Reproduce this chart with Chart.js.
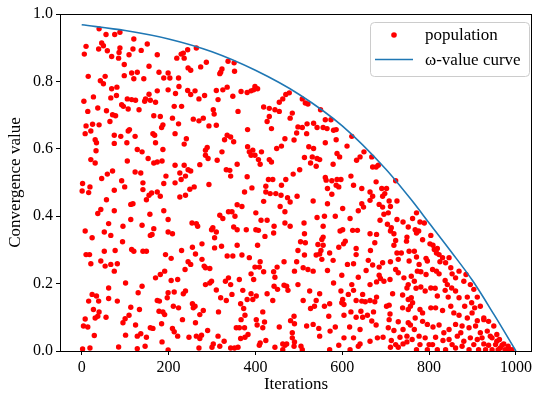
<!DOCTYPE html>
<html>
<head>
<meta charset="utf-8">
<script src="https://cdn.jsdelivr.net/npm/chart.js@4.4.1/dist/chart.umd.min.js"></script>
<style>html,body{margin:0;padding:0;background:#fff;}</style>
</head>
<body>
<canvas id="chart" width="536" height="398"></canvas>
<script>
const xTicks = [0, 200, 400, 600, 800, 1000];
const yTicks = [0, 0.2, 0.4, 0.6, 0.8, 1.0];

// omega-value curve
const curveX = [0, 100, 200, 300, 400, 500, 600, 700, 760, 800, 850, 900, 950, 1000];
const curveY = [0.968, 0.951, 0.926, 0.888, 0.833, 0.762, 0.668, 0.540, 0.447, 0.380, 0.296, 0.209, 0.107, 0.0];

// population points [iteration, value]
const populationPoints = [
[40,0.956],[56,0.939],[76,0.939],[88,0.946],[120,0.926],[151,0.911],[10,0.904],[46,0.914],[50,0.906],[39,0.896],[59,0.891],[88,0.899],[118,0.896],[137,0.892],[6,0.881],[69,0.874],[85,0.869],[86,0.886],[98,0.850],[109,0.879],[174,0.879],[155,0.845],[178,0.827],[189,0.810],[199,0.825],[115,0.825],[128,0.827],[120,0.808],[143,0.808],[98,0.817],[54,0.815],[43,0.802],[50,0.793],[15,0.815],[69,0.778],[81,0.783],[80,0.758],[199,0.775],[174,0.772],[155,0.762],[170,0.738],[147,0.748],[145,0.741],[158,0.744],[105,0.748],[115,0.746],[124,0.744],[92,0.731],[96,0.726],[107,0.718],[132,0.716],[67,0.751],[27,0.754],[5,0.741],[14,0.711],[37,0.721],[57,0.713],[71,0.701],[78,0.698],[65,0.681],[166,0.698],[181,0.696],[25,0.673],[40,0.671],[10,0.668],[187,0.671],
[264,0.899],[244,0.894],[234,0.884],[229,0.881],[219,0.869],[236,0.869],[287,0.857],[274,0.843],[245,0.840],[251,0.833],[337,0.860],[351,0.855],[352,0.830],[323,0.837],[320,0.827],[318,0.823],[203,0.810],[223,0.810],[224,0.785],[244,0.773],[251,0.761],[261,0.772],[216,0.764],[283,0.758],[270,0.748],[310,0.773],[325,0.775],[335,0.783],[348,0.756],[314,0.746],[367,0.770],[381,0.767],[390,0.772],[399,0.785],[405,0.778],[396,0.775],[470,0.761],[463,0.748],[455,0.738],[478,0.766],[419,0.724],[432,0.720],[445,0.716],[360,0.711],[303,0.716],[305,0.703],[213,0.726],[230,0.726],[209,0.691],[257,0.688],[270,0.683],[280,0.691],[432,0.696],[427,0.681],[455,0.711],[480,0.691],[223,0.674],[293,0.668],[310,0.670],
[508,0.748],[515,0.736],[521,0.733],[550,0.716],[485,0.706],[561,0.686],[574,0.686],[519,0.674],[534,0.676],
[8,0.645],[21,0.653],[31,0.627],[34,0.618],[33,0.594],[75,0.640],[90,0.637],[75,0.616],[104,0.618],[107,0.653],[110,0.657],[123,0.637],[164,0.645],[168,0.640],[170,0.618],[184,0.663],[21,0.568],[31,0.558],[128,0.598],[139,0.591],[153,0.571],[166,0.558],[174,0.561],[185,0.564],[187,0.598],[105,0.564],[123,0.531],[136,0.528],[59,0.525],[46,0.512],[71,0.534],[2,0.497],[19,0.487],[1,0.475],[16,0.470],[92,0.505],[99,0.487],[141,0.499],[141,0.479],[75,0.477],[161,0.469],[155,0.462],[149,0.449],[174,0.472],[181,0.459],[189,0.497],[194,0.519],[57,0.449],[113,0.435],[118,0.437],[44,0.420],[37,0.408],[75,0.416],[157,0.406],[189,0.416],[199,0.390],[62,0.378],[95,0.370],[113,0.390],[139,0.373],[166,0.363],[158,0.343],[162,0.346],[8,0.356],[24,0.336],[52,0.353],[67,0.343],[199,0.353],
[382,0.657],[437,0.660],[215,0.645],[241,0.630],[236,0.614],[335,0.640],[343,0.635],[329,0.627],[350,0.621],[468,0.630],[289,0.604],[285,0.596],[323,0.591],[285,0.581],[291,0.571],[312,0.566],[382,0.606],[386,0.591],[394,0.596],[390,0.581],[399,0.581],[414,0.591],[407,0.568],[411,0.554],[432,0.568],[437,0.561],[449,0.601],[460,0.608],[215,0.551],[236,0.551],[272,0.553],[333,0.538],[341,0.536],[343,0.519],[358,0.554],[381,0.517],[226,0.528],[245,0.538],[251,0.534],[239,0.519],[229,0.509],[215,0.499],[293,0.494],[259,0.487],[249,0.480],[239,0.462],[226,0.457],[375,0.472],[392,0.484],[424,0.489],[430,0.509],[440,0.509],[470,0.509],[460,0.492],[424,0.472],[434,0.467],[447,0.467],[459,0.462],[474,0.455],[480,0.442],[419,0.444],[457,0.429],[468,0.413],[358,0.434],[369,0.429],[401,0.410],[413,0.388],[427,0.388],[338,0.413],[346,0.413],[318,0.403],[325,0.393],[353,0.400],[254,0.380],[264,0.378],[267,0.370],[209,0.348],[302,0.366],[299,0.360],[310,0.353],[306,0.336],[350,0.368],[358,0.360],[379,0.360],[401,0.360],[407,0.358],[443,0.370],[442,0.350],[422,0.340],[468,0.380],[480,0.370],
[498,0.665],[508,0.663],[542,0.663],[556,0.663],[565,0.660],[580,0.655],[586,0.657],[495,0.647],[489,0.626],[518,0.645],[561,0.618],[586,0.627],[622,0.637],[611,0.608],[523,0.606],[534,0.601],[513,0.574],[531,0.576],[542,0.571],[548,0.568],[527,0.558],[540,0.548],[588,0.586],[594,0.576],[579,0.554],[633,0.566],[641,0.576],[650,0.591],[668,0.576],[670,0.546],[678,0.546],[683,0.551],[723,0.505],[487,0.525],[502,0.538],[561,0.515],[563,0.507],[576,0.505],[588,0.509],[597,0.509],[586,0.492],[592,0.487],[620,0.519],[626,0.492],[576,0.465],[566,0.482],[645,0.482],[664,0.472],[670,0.459],[678,0.502],[691,0.482],[702,0.482],[698,0.467],[693,0.459],[708,0.445],[726,0.445],[664,0.447],[496,0.459],[533,0.445],[566,0.437],[645,0.437],[649,0.427],[637,0.416],[685,0.435],[693,0.427],[711,0.429],[706,0.410],[696,0.406],[601,0.423],[584,0.400],[618,0.393],[559,0.400],[542,0.396],[687,0.388],[704,0.376],[713,0.366],[726,0.390],[740,0.383],[752,0.368],[512,0.380],[556,0.370],[601,0.360],[595,0.356],[624,0.358],[635,0.358],[664,0.348],[679,0.346],[711,0.356],[719,0.348],[513,0.348],[556,0.338],[749,0.338],
[771,0.410],[762,0.393],[779,0.383],[789,0.380],[768,0.360],[776,0.356],[771,0.350],[804,0.343],[785,0.330],
[94,0.324],[10,0.286],[18,0.286],[21,0.259],[44,0.267],[54,0.252],[52,0.296],[77,0.298],[67,0.257],[82,0.259],[75,0.237],[115,0.301],[120,0.296],[141,0.296],[149,0.296],[193,0.286],[170,0.217],[181,0.227],[191,0.237],[101,0.202],[62,0.187],[139,0.192],[130,0.173],[24,0.168],[34,0.163],[16,0.148],[39,0.148],[62,0.156],[82,0.148],[27,0.123],[40,0.116],[31,0.098],[37,0.103],[56,0.100],[8,0.095],[4,0.074],[14,0.071],[29,0.046],[100,0.096],[95,0.084],[109,0.106],[113,0.130],[133,0.123],[174,0.150],[179,0.148],[178,0.118],[187,0.116],[191,0.108],[197,0.158],[199,0.173],[124,0.077],[101,0.047],[128,0.044],[136,0.051],[149,0.041],[158,0.069],[164,0.067],[184,0.081],[185,0.027],[2,0.006],[19,0.009],[85,0.012],[128,0.007],[146,0.014],[199,0.003],
[255,0.308],[277,0.318],[306,0.306],[322,0.311],[358,0.314],[405,0.314],[230,0.298],[262,0.288],[206,0.275],[245,0.265],[251,0.257],[277,0.272],[282,0.252],[285,0.247],[295,0.245],[238,0.242],[335,0.282],[348,0.282],[369,0.285],[386,0.277],[411,0.265],[399,0.249],[409,0.249],[419,0.235],[390,0.229],[396,0.212],[442,0.235],[450,0.249],[466,0.265],[445,0.219],[206,0.209],[221,0.212],[285,0.197],[295,0.202],[299,0.207],[338,0.217],[343,0.197],[331,0.207],[363,0.212],[310,0.181],[213,0.175],[234,0.170],[239,0.178],[443,0.192],[451,0.183],[466,0.195],[472,0.192],[475,0.180],[320,0.158],[333,0.150],[346,0.168],[371,0.180],[390,0.170],[402,0.163],[381,0.153],[394,0.153],[427,0.170],[440,0.150],[211,0.133],[223,0.128],[255,0.140],[261,0.133],[257,0.128],[280,0.120],[272,0.108],[315,0.116],[366,0.140],[373,0.126],[376,0.106],[367,0.093],[417,0.116],[402,0.093],[421,0.086],[404,0.077],[417,0.069],[455,0.071],[232,0.093],[262,0.084],[209,0.067],[213,0.057],[221,0.044],[247,0.041],[264,0.044],[276,0.047],[272,0.037],[290,0.061],[314,0.044],[303,0.021],[300,0.011],[328,0.029],[318,0.014],[270,0.009],[356,0.069],[363,0.069],[375,0.069],[383,0.049],[376,0.041],[366,0.037],[343,0.009],[352,0.009],[360,0.011],[411,0.024],[424,0.031],[409,0.017],[445,0.011],[463,0.021],[468,0.017],[472,0.021],[463,0.004],
[504,0.324],[515,0.321],[544,0.316],[556,0.314],[553,0.331],[607,0.326],[603,0.318],[675,0.321],[723,0.328],[748,0.326],[498,0.298],[513,0.285],[540,0.285],[551,0.298],[548,0.288],[571,0.291],[592,0.308],[632,0.304],[632,0.286],[665,0.298],[726,0.291],[736,0.291],[754,0.296],[719,0.314],[495,0.265],[553,0.272],[579,0.269],[612,0.257],[626,0.259],[660,0.269],[670,0.255],[685,0.249],[655,0.239],[693,0.262],[711,0.265],[729,0.272],[754,0.267],[490,0.237],[510,0.247],[521,0.242],[533,0.237],[566,0.239],[599,0.225],[637,0.219],[685,0.225],[688,0.215],[723,0.242],[729,0.232],[742,0.217],[759,0.222],[580,0.202],[498,0.197],[622,0.197],[664,0.197],[679,0.205],[696,0.207],[710,0.212],[752,0.197],[749,0.187],[525,0.178],[548,0.170],[597,0.178],[601,0.153],[626,0.180],[614,0.168],[647,0.168],[679,0.160],[664,0.150],[675,0.146],[653,0.146],[716,0.170],[739,0.166],[752,0.153],[759,0.158],[510,0.150],[540,0.150],[571,0.140],[559,0.133],[527,0.126],[536,0.133],[599,0.143],[604,0.138],[632,0.150],[645,0.148],[643,0.118],[620,0.116],[604,0.106],[632,0.100],[647,0.100],[658,0.106],[672,0.116],[702,0.133],[708,0.136],[710,0.110],[739,0.128],[752,0.123],[757,0.133],[489,0.103],[481,0.090],[490,0.081],[518,0.074],[533,0.079],[546,0.067],[569,0.103],[584,0.071],[572,0.059],[617,0.071],[641,0.064],[668,0.089],[678,0.077],[708,0.093],[706,0.069],[719,0.061],[729,0.087],[752,0.084],[757,0.077],[740,0.064],[733,0.041],[749,0.044],[485,0.054],[485,0.039],[490,0.027],[489,0.014],[505,0.014],[508,0.004],[548,0.044],[571,0.004],[592,0.017],[604,0.039],[618,0.004],[626,0.039],[641,0.021],[637,0.014],[664,0.029],[681,0.039],[694,0.041],[713,0.031],[711,0.011],[723,0.019],[729,0.011],[740,0.021],[749,0.027],[761,0.034],
[802,0.318],[809,0.314],[812,0.301],[819,0.304],[817,0.291],[823,0.286],[831,0.277],[825,0.265],[838,0.262],[846,0.277],[850,0.247],[853,0.229],[861,0.217],[869,0.237],[880,0.207],[885,0.227],[895,0.197],[903,0.183],[911,0.160],[766,0.296],[771,0.279],[777,0.257],[793,0.275],[796,0.267],[773,0.237],[781,0.235],[793,0.227],[808,0.242],[817,0.237],[823,0.229],[837,0.209],[842,0.197],[766,0.207],[770,0.186],[781,0.190],[791,0.178],[804,0.187],[814,0.186],[819,0.163],[837,0.180],[852,0.187],[861,0.178],[844,0.160],[869,0.158],[888,0.160],[898,0.143],[905,0.128],[918,0.133],[926,0.098],[762,0.143],[779,0.123],[785,0.113],[804,0.128],[815,0.128],[831,0.120],[850,0.133],[857,0.113],[869,0.106],[882,0.133],[888,0.098],[899,0.113],[911,0.090],[926,0.093],[937,0.088],[949,0.074],[956,0.049],[768,0.098],[785,0.088],[796,0.079],[809,0.071],[823,0.077],[834,0.054],[846,0.064],[861,0.079],[876,0.074],[892,0.069],[907,0.074],[918,0.054],[934,0.059],[945,0.039],[962,0.034],[972,0.021],[982,0.014],[991,0.004],[766,0.064],[777,0.044],[791,0.039],[800,0.019],[815,0.041],[832,0.031],[846,0.034],[865,0.044],[880,0.029],[895,0.039],[911,0.034],[926,0.021],[937,0.017],[953,0.019],[964,0.009],[975,0.004],[983,0.007],[779,0.019],[796,0.004],[819,0.004],[838,0.004],[861,0.009],[876,0.014],[892,0.004],[914,0.004],[930,0.004],[945,0.004],[959,0.004],[968,0.017],[956,0.029],[941,0.044],[922,0.039],[903,0.019],[873,0.054],[853,0.019],[808,0.019],[771,0.004]
];

const serif = '"Liberation Serif", "Times New Roman", Times, serif';

// axes frame (all four spines) and the legend box in the upper right
const frameAndLegend = {
	id: 'frameAndLegend',
	afterDatasetsDraw(chart) {
		const {ctx, chartArea: a} = chart;
		ctx.save();
		ctx.strokeStyle = '#000';
		ctx.lineWidth = 1;
		const l = Math.round(a.left) + 0.5, t = Math.round(a.top) + 0.5;
		const r = Math.round(a.right) - 0.5, b = Math.round(a.bottom) + 0.5;
		ctx.strokeRect(l, t, r - l, b - t);
		ctx.restore();
	},
	afterDraw(chart) {
		const {ctx, chartArea: a} = chart;
		const w = 159, h = 54;
		const x0 = Math.round(a.right - 3 - w), y0 = Math.round(a.top + 8);
		ctx.save();
		ctx.beginPath();
		if (ctx.roundRect) {
			ctx.roundRect(x0 + 0.5, y0 + 0.5, w, h, 4);
		} else {
			ctx.rect(x0 + 0.5, y0 + 0.5, w, h);
		}
		ctx.fillStyle = 'rgba(255,255,255,0.8)';
		ctx.fill();
		ctx.strokeStyle = '#cccccc';
		ctx.lineWidth = 1;
		ctx.stroke();

		// population marker
		ctx.beginPath();
		ctx.arc(x0 + 24, y0 + 13, 2.8, 0, Math.PI * 2);
		ctx.fillStyle = '#ff0000';
		ctx.fill();
		// curve handle
		ctx.beginPath();
		ctx.moveTo(x0 + 5, y0 + 37.5);
		ctx.lineTo(x0 + 43, y0 + 37.5);
		ctx.strokeStyle = '#1f77b4';
		ctx.lineWidth = 1.6;
		ctx.stroke();

		ctx.fillStyle = '#000';
		ctx.font = '17px ' + serif;
		ctx.textBaseline = 'middle';
		ctx.fillText(chart.data.datasets[1].label, x0 + 55, y0 + 14);
		ctx.fillText(chart.data.datasets[0].label, x0 + 55, y0 + 38.5);
		ctx.restore();
	}
};

new Chart(document.getElementById('chart').getContext('2d'), {
	type: 'scatter',
	data: {
		datasets: [{
			label: 'ω-value curve',
			data: curveX.map((x, i) => ({x: x, y: curveY[i]})),
			showLine: true,
			borderColor: '#1f77b4',
			borderWidth: 1.6,
			pointRadius: 0,
			fill: false,
			cubicInterpolationMode: 'monotone',
			order: 0
		}, {
			label: 'population',
			data: populationPoints.map(p => ({x: p[0], y: p[1]})),
			pointRadius: 2.7,
			pointBorderWidth: 0,
			backgroundColor: '#ff0000',
			borderColor: '#ff0000',
			order: 1
		}]
	},
	plugins: [frameAndLegend],
	options: {
		responsive: false,
		animation: false,
		devicePixelRatio: 1,
		layout: {
			padding: {
				left: 0,
				right: 1,
				top: 14,
				bottom: 0
			}
		},
		plugins: {
			legend: {
				display: false
			},
			tooltip: {
				enabled: false
			}
		},
		scales: {
			x: {
				type: 'linear',
				min: -50,
				max: 1037,
				afterBuildTicks: s => { s.ticks = xTicks.map(v => ({value: v})); },
				afterFit: s => { s.height = 47; },
				border: {
					display: false
				},
				grid: {
					drawOnChartArea: false,
					tickLength: 4,
					color: '#000'
				},
				ticks: {
					color: '#000',
					padding: 3,
					maxRotation: 0,
					autoSkip: false,
					font: {
						family: serif,
						size: 16
					},
					callback: v => String(v)
				},
				title: {
					display: true,
					text: 'Iterations',
					color: '#000',
					padding: {top: 0, bottom: 3.5},
					font: {
						family: serif,
						size: 17
					}
				}
			},
			y: {
				type: 'linear',
				min: 0,
				max: 1,
				afterBuildTicks: s => { s.ticks = yTicks.map(v => ({value: v})); },
				afterFit: s => { s.width = 60; },
				border: {
					display: false
				},
				grid: {
					drawOnChartArea: false,
					tickLength: 4,
					color: '#000'
				},
				ticks: {
					color: '#000',
					padding: 3,
					font: {
						family: serif,
						size: 16
					},
					callback: v => v.toFixed(1)
				},
				title: {
					display: true,
					text: 'Convergence value',
					color: '#000',
					padding: {top: 5, bottom: 0},
					font: {
						family: serif,
						size: 17
					}
				}
			}
		}
	}
});
</script>
</body>
</html>
